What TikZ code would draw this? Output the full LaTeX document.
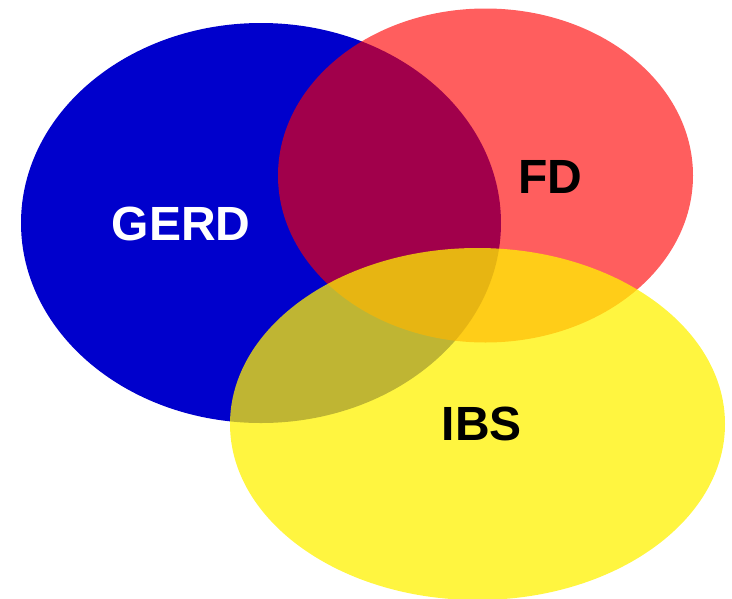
\documentclass[tikz,border=0pt]{standalone}
\usepackage{fontspec}
\setmainfont{Liberation Sans}
\begin{document}
\begin{tikzpicture}[x=1pt,y=-1pt,
  setlabel/.style={font=\fontsize{48}{52}\selectfont\bfseries, inner sep=0pt}]
  \useasboundingbox (0,0) rectangle (732,598);
  % three overlapping sets
  \fill[fill={rgb,255:red,0;green,0;blue,204}] (261,223) ellipse [x radius=240, y radius=200];
  \fill[red, fill opacity=0.63] (485.5,175.5) ellipse [x radius=207.5, y radius=167];
  \fill[yellow, fill opacity=0.75] (477.5,424) ellipse [x radius=247.5, y radius=176];
  % set labels
  \node[setlabel, text=white] (gerd) at (181,224) {GERD};
  \node[setlabel] (fd) at (550,177) {FD};
  \node[setlabel] (ibs) at (482,424) {IBS};
\end{tikzpicture}
\end{document}
